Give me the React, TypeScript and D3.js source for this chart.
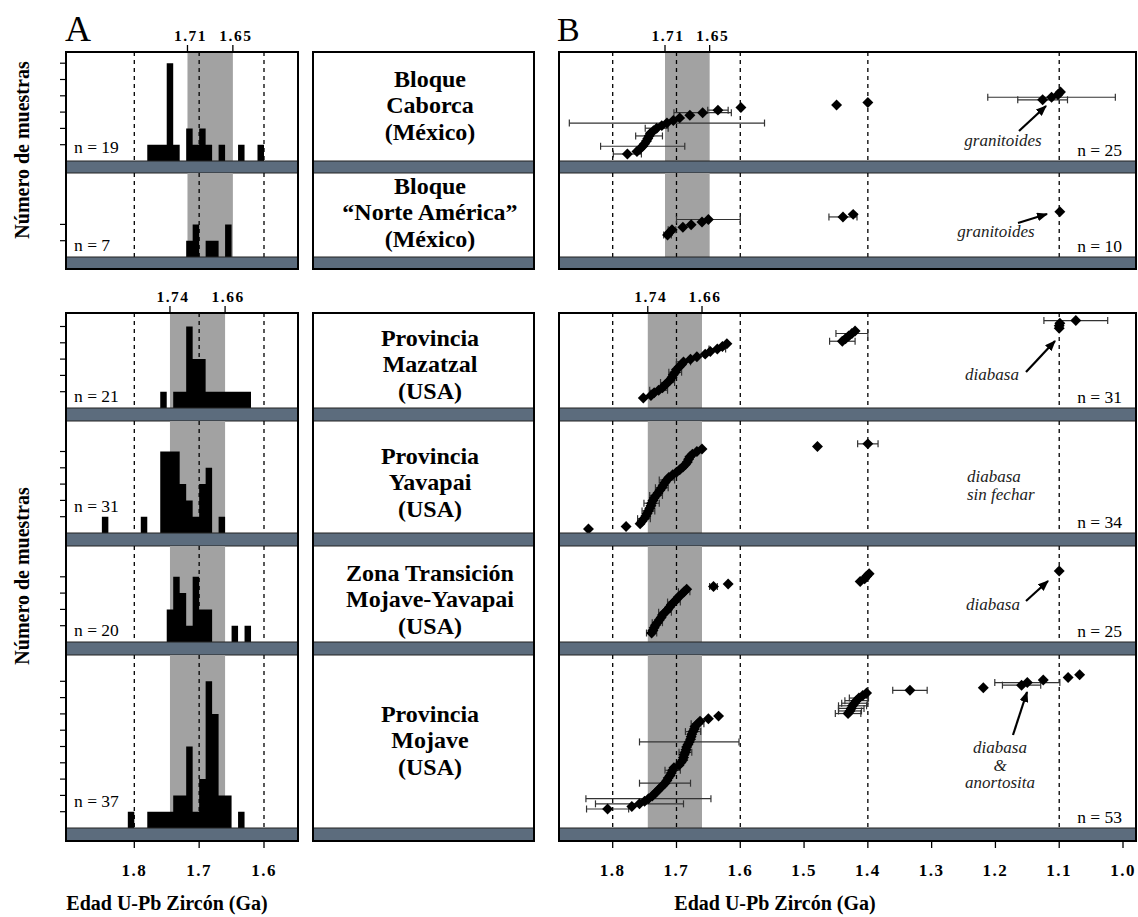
import React, { useRef, useEffect } from 'react';
import * as d3 from 'd3';

// ---------- data ----------
const regionLines = [
  ['Bloque', 'Caborca', '(México)'],
  ['Bloque', '“Norte América”', '(México)'],
  ['Provincia', 'Mazatzal', '(USA)'],
  ['Provincia', 'Yavapai', '(USA)'],
  ['Zona Transición', 'Mojave-Yavapai', '(USA)'],
  ['Provincia', 'Mojave', '(USA)'],
];
const histTotals = [19, 7, 21, 31, 20, 37];
const zirconTotals = [25, 10, 31, 34, 25, 53];

// histograms: older edge of each 10 Ma bin (Ga) + number of samples
const caborcaBins = [1.78, 1.77, 1.76, 1.75, 1.74, 1.72, 1.71, 1.70, 1.69, 1.67, 1.64, 1.61];
const caborcaCounts = [1, 1, 1, 6, 1, 2, 1, 2, 1, 1, 1, 1];
const norteBins = [1.72, 1.71, 1.69, 1.68, 1.66];
const norteCounts = [1, 2, 1, 1, 2];
const mazatzalBins = [1.76, 1.74, 1.73, 1.72, 1.71, 1.70, 1.69, 1.68, 1.67, 1.66, 1.65, 1.64, 1.63];
const mazatzalCounts = [1, 1, 1, 5, 3, 3, 1, 1, 1, 1, 1, 1, 1];
const yavapaiBins = [1.85, 1.79, 1.76, 1.75, 1.74, 1.73, 1.72, 1.71, 1.70, 1.69, 1.67];
const yavapaiCounts = [1, 1, 5, 5, 5, 3, 2, 1, 3, 4, 1];
const transBins = [1.75, 1.74, 1.73, 1.72, 1.71, 1.70, 1.69, 1.65, 1.63];
const transCounts = [2, 4, 3, 1, 4, 2, 2, 1, 1];
const mojaveBins = [1.81, 1.78, 1.77, 1.76, 1.75, 1.74, 1.73, 1.72, 1.71, 1.70, 1.69, 1.68, 1.67, 1.66, 1.64];
const mojaveCounts = [1, 1, 1, 1, 1, 2, 2, 5, 1, 3, 9, 7, 2, 2, 1];

// U-Pb zircon ages (Ga), old -> young, with error (0 = no bar drawn)
const caborcaAges = [1.777, 1.762, 1.757, 1.753, 1.750, 1.747, 1.745, 1.743, 1.741, 1.736, 1.731, 1.723, 1.715,
  1.705, 1.695, 1.679, 1.659, 1.635, 1.599, 1.449, 1.400, 1.126, 1.112, 1.102, 1.098];
const caborcaErr = [0.022, 0, 0, 0.066, 0, 0, 0, 0.021, 0, 0, 0.018, 0, 0.153, 0, 0, 0, 0.045, 0.016, 0, 0, 0,
  0.039, 0.1, 0, 0];
const norteAges = [1.714, 1.711, 1.707, 1.690, 1.677, 1.660, 1.650, 1.439, 1.423, 1.099];
const norteErr = [0.006, 0, 0.006, 0, 0, 0, 0.05, 0.022, 0, 0];
const mazatzalAges = [1.752, 1.740, 1.735, 1.728, 1.722, 1.718, 1.714, 1.710, 1.707, 1.705, 1.702, 1.700, 1.696,
  1.692, 1.689, 1.678, 1.668, 1.655, 1.647, 1.636, 1.628, 1.621, 1.440, 1.435, 1.430, 1.425, 1.420, 1.100, 1.100,
  1.099, 1.074];
const mazatzalErr = [0, 0, 0, 0.014, 0, 0, 0.011, 0, 0, 0, 0.01, 0, 0, 0, 0.011, 0, 0, 0, 0, 0.013, 0, 0, 0.02, 0,
  0, 0.025, 0, 0, 0, 0, 0.05];
const yavapaiAges = [1.838, 1.779, 1.757, 1.754, 1.751, 1.748, 1.746, 1.744, 1.742, 1.740, 1.739, 1.737, 1.735,
  1.732, 1.729, 1.726, 1.723, 1.721, 1.718, 1.715, 1.712, 1.706, 1.700, 1.695, 1.690, 1.686, 1.683, 1.681, 1.679,
  1.675, 1.668, 1.660, 1.479, 1.400];
const yavapaiErr = [0, 0, 0, 0, 0.01, 0, 0, 0.01, 0, 0, 0.012, 0, 0, 0.01, 0, 0, 0.01, 0, 0, 0.012, 0, 0, 0, 0,
  0, 0, 0, 0, 0, 0, 0, 0, 0, 0.016];
const transAges = [1.739, 1.737, 1.735, 1.733, 1.730, 1.727, 1.724, 1.722, 1.718, 1.714, 1.711, 1.708, 1.704,
  1.700, 1.697, 1.692, 1.688, 1.684, 1.642, 1.619, 1.412, 1.405, 1.402, 1.398, 1.100];
const transErr = [0.008, 0, 0, 0, 0.008, 0, 0, 0, 0.01, 0, 0, 0, 0.01, 0, 0, 0, 0.009, 0, 0.006, 0, 0, 0, 0, 0, 0];
const mojaveAges = [1.808, 1.770, 1.758, 1.750, 1.744, 1.738, 1.734, 1.730, 1.726, 1.722, 1.718, 1.715, 1.713,
  1.710, 1.708, 1.706, 1.704, 1.696, 1.693, 1.690, 1.689, 1.688, 1.686, 1.685, 1.684, 1.682, 1.680, 1.678, 1.677,
  1.676, 1.674, 1.672, 1.671, 1.667, 1.663, 1.650, 1.634, 1.431, 1.428, 1.426, 1.424, 1.421, 1.418, 1.414, 1.408,
  1.402, 1.334, 1.219, 1.159, 1.150, 1.125, 1.086, 1.068];
const mojaveErr = [0.033, 0, 0.069, 0, 0.098, 0, 0, 0, 0, 0, 0.04, 0, 0, 0, 0, 0.012, 0, 0, 0, 0, 0, 0, 0.01, 0,
  0, 0, 0.078, 0, 0, 0, 0.012, 0, 0, 0.01, 0, 0, 0, 0.02, 0.018, 0.02, 0.022, 0.02, 0.018, 0.015, 0, 0, 0.027, 0,
  0.03, 0.051, 0, 0, 0];

const histBins = [caborcaBins, norteBins, mazatzalBins, yavapaiBins, transBins, mojaveBins];
const histCounts = [caborcaCounts, norteCounts, mazatzalCounts, yavapaiCounts, transCounts, mojaveCounts];
const rowAges = [caborcaAges, norteAges, mazatzalAges, yavapaiAges, transAges, mojaveAges];
const rowErr = [caborcaErr, norteErr, mazatzalErr, yavapaiErr, transErr, mojaveErr];

// grey band (Ga) and its labels, one per group
const bandEdges = [[1.718, 1.648], [1.745, 1.66]];
const bandLabels = [['1.71', '1.65'], ['1.74', '1.66']];

const histAxisTicks = [1.8, 1.7, 1.6];
const ageAxisTicks = [1.8, 1.7, 1.6, 1.5, 1.4, 1.3, 1.2, 1.1, 1.0];
const guidesA = [1.8, 1.7, 1.6];
const guidesB = [1.8, 1.7, 1.6, 1.4, 1.1];

// ---------- layout ----------
const W = 1138, H = 917;
const rowTop = [52, 173, 313, 421, 546, 655];
const bandTop = [161, 257, 408, 533, 642, 828];
const bandBot = [173, 269, 421, 546, 655, 841];
const groupRows = [[0, 1], [2, 3, 4, 5]];
const labelMid = [113, 220, 372, 490, 607, 748];
const nLabelLift = [8, 6, 6, 21, 6, 21];
const pointLift = [7, 22, 10, 4, 9, 19];
const boxA = [66, 298], boxM = [313, 534], boxB = [559, 1136];
const serif = "'Liberation Serif', 'DejaVu Serif', serif";
const blue = '#5c6c7d';

const App = () => {
  const ref = useRef<SVGSVGElement>(null);

  useEffect(() => {
    const svg = d3.select(ref.current);
    svg.selectAll('*').remove();
    svg.attr('width', W).attr('height', H).style('font-family', serif);

    const xA = d3.scaleLinear().domain([1.8, 1.6]).range([134.3, 264]);
    const xB = d3.scaleLinear().domain([1.8, 1.0]).range([612.7, 1123]);

    const defs = svg.append('defs');
    defs.append('marker').attr('id', 'arr')
      .attr('viewBox', '0 0 10 8').attr('refX', 9).attr('refY', 4)
      .attr('markerWidth', 11).attr('markerHeight', 9)
      .attr('markerUnits', 'userSpaceOnUse').attr('orient', 'auto')
      .append('path').attr('d', 'M0,0 L10,4 L0,8 Z').attr('fill', '#000');

    // panel letters
    svg.append('text').attr('x', 65).attr('y', 41).attr('font-size', 36).text('A');
    svg.append('text').attr('x', 557).attr('y', 41).attr('font-size', 34).text('B');

    // y-axis titles
    [150, 576].forEach((cy) => {
      svg.append('text').attr('transform', `translate(29,${cy}) rotate(-90)`)
        .attr('text-anchor', 'middle').attr('font-weight', 'bold').attr('font-size', 20)
        .text('Número de muestras');
    });

    const rowBands = (g: any, r: number, x0: number, x1: number) => {
      g.append('rect').attr('x', x0).attr('y', bandTop[r]).attr('width', x1 - x0)
        .attr('height', bandBot[r] - bandTop[r]).attr('fill', blue)
        .attr('stroke', '#222').attr('stroke-width', 1);
    };

    groupRows.forEach((rows, gi) => {
      const top = rowTop[rows[0]];
      const bottom = bandBot[rows[rows.length - 1]];
      const [e0, e1] = bandEdges[gi];

      // ----- panel A -----
      const gA = svg.append('g');
      rows.forEach((r) => {
        gA.append('rect').attr('x', xA(e0)).attr('y', rowTop[r]).attr('width', xA(e1) - xA(e0))
          .attr('height', bandTop[r] - rowTop[r]).attr('fill', '#a2a2a2');
        guidesA.forEach((a) => {
          gA.append('line').attr('x1', xA(a)).attr('x2', xA(a)).attr('y1', rowTop[r]).attr('y2', bandTop[r])
            .attr('stroke', '#000').attr('stroke-width', 1.3).attr('stroke-dasharray', '4,4');
        });
        const yH = d3.scaleLinear().domain([0, 1]).range([bandTop[r], bandTop[r] - 16.3]);
        // all bins of a row in one path so neighbouring bars fuse without seams
        const p = d3.path();
        histBins[r].forEach((b, i) => {
          const y = yH(histCounts[r][i]);
          p.rect(xA(b), y, xA(b - 0.01) - xA(b), bandTop[r] - y);
        });
        gA.append('path').attr('d', p.toString()).attr('fill', '#000');
        const maxC = d3.max(histCounts[r]) as number;
        gA.selectAll(null).data(d3.range(1, maxC + 1)).enter().append('line')
          .attr('x1', boxA[0] - 6).attr('x2', boxA[0]).attr('y1', (k: number) => yH(k)).attr('y2', (k: number) => yH(k))
          .attr('stroke', '#000').attr('stroke-width', 1.2);
        gA.append('text').attr('x', 74).attr('y', bandTop[r] - nLabelLift[r])
          .attr('font-size', 17.5).text(`n = ${histTotals[r]}`);
        rowBands(gA, r, boxA[0], boxA[1]);
      });
      gA.append('rect').attr('x', boxA[0]).attr('y', top).attr('width', boxA[1] - boxA[0])
        .attr('height', bottom - top).attr('fill', 'none').attr('stroke', '#000').attr('stroke-width', 2);

      // ----- middle labels -----
      const gM = svg.append('g');
      rows.forEach((r) => {
        regionLines[r].forEach((line, li) => {
          gM.append('text').attr('x', 430).attr('y', labelMid[r] + (li - 1) * 26.5)
            .attr('text-anchor', 'middle').attr('font-weight', 'bold').attr('font-size', 24).text(line);
        });
        rowBands(gM, r, boxM[0], boxM[1]);
      });
      gM.append('rect').attr('x', boxM[0]).attr('y', top).attr('width', boxM[1] - boxM[0])
        .attr('height', bottom - top).attr('fill', 'none').attr('stroke', '#000').attr('stroke-width', 2);

      // ----- panel B -----
      const gB = svg.append('g');
      rows.forEach((r) => {
        gB.append('rect').attr('x', xB(e0)).attr('y', rowTop[r]).attr('width', xB(e1) - xB(e0))
          .attr('height', bandTop[r] - rowTop[r]).attr('fill', '#a2a2a2');
        guidesB.forEach((a) => {
          gB.append('line').attr('x1', xB(a)).attr('x2', xB(a)).attr('y1', rowTop[r]).attr('y2', bandTop[r])
            .attr('stroke', '#000').attr('stroke-width', 1.3).attr('stroke-dasharray', '4,4');
        });
        const ages = rowAges[r];
        const y0 = bandTop[r] - pointLift[r];
        const yR = d3.scaleLinear().domain([0, ages.length - 1]).range([y0, y0 - 2.58 * (ages.length - 1)]);
        const errs = ages.map((a, i) => ({ a, e: rowErr[r][i], i })).filter((d) => d.e > 0);
        const eg = gB.append('g').attr('stroke', '#333').attr('stroke-width', 1.2);
        errs.forEach((d) => {
          const y = yR(d.i);
          eg.append('line').attr('x1', xB(d.a + d.e)).attr('x2', xB(d.a - d.e)).attr('y1', y).attr('y2', y);
          [d.a + d.e, d.a - d.e].forEach((v) => {
            eg.append('line').attr('x1', xB(v)).attr('x2', xB(v)).attr('y1', y - 3.5).attr('y2', y + 3.5);
          });
        });
        const sym = d3.symbol().type(d3.symbolSquare).size(60);
        gB.selectAll(null).data(ages).enter().append('path')
          .attr('d', sym as any)
          .attr('transform', (d: number, i: number) => `translate(${xB(d)},${yR(i)}) rotate(45)`)
          .attr('fill', '#000');
        gB.append('text').attr('x', 1122).attr('y', bandTop[r] - 5).attr('text-anchor', 'end')
          .attr('font-size', 17.5).text(`n = ${zirconTotals[r]}`);
        rowBands(gB, r, boxB[0], boxB[1]);
      });
      gB.append('rect').attr('x', boxB[0]).attr('y', top).attr('width', boxB[1] - boxB[0])
        .attr('height', bottom - top).attr('fill', 'none').attr('stroke', '#000').attr('stroke-width', 2);

      // band edge labels on top of A and B
      [xA, xB].forEach((sc: any) => {
        [e0, e1].forEach((e, k) => {
          svg.append('line').attr('x1', sc(e)).attr('x2', sc(e)).attr('y1', top - 7).attr('y2', top)
            .attr('stroke', '#000').attr('stroke-width', 1.3);
          svg.append('text').attr('x', sc(e) + 3).attr('y', top - 11).attr('text-anchor', 'middle')
            .attr('font-weight', 'bold').attr('font-size', 15.5).attr('letter-spacing', 1.5)
            .text(bandLabels[gi][k]);
        });
      });
    });

    // bottom axes
    const axisY = bandBot[5];
    histAxisTicks.forEach((t) => {
      svg.append('line').attr('x1', xA(t)).attr('x2', xA(t)).attr('y1', axisY).attr('y2', axisY + 7)
        .attr('stroke', '#000').attr('stroke-width', 1.3);
      svg.append('text').attr('x', xA(t)).attr('y', 876).attr('text-anchor', 'middle')
        .attr('font-weight', 'bold').attr('font-size', 17).attr('letter-spacing', 1.5).text(t.toFixed(1));
    });
    ageAxisTicks.forEach((t) => {
      svg.append('line').attr('x1', xB(t)).attr('x2', xB(t)).attr('y1', axisY).attr('y2', axisY + 7)
        .attr('stroke', '#000').attr('stroke-width', 1.3);
      svg.append('text').attr('x', xB(t)).attr('y', 876).attr('text-anchor', 'middle')
        .attr('font-weight', 'bold').attr('font-size', 17).attr('letter-spacing', 1.5).text(t.toFixed(1));
    });
    [[167, 910], [775, 910]].forEach(([x, y]) => {
      svg.append('text').attr('x', x).attr('y', y).attr('text-anchor', 'middle')
        .attr('font-weight', 'bold').attr('font-size', 20).text('Edad U-Pb Zircón (Ga)');
    });

    // annotations in panel B
    const notes = [
      { lines: ['granitoides'], x: 1003, y: 146, anchor: 'middle', from: [1019, 131], to: [1046, 106] },
      { lines: ['granitoides'], x: 996, y: 237, anchor: 'middle', from: [1018, 223], to: [1047, 214] },
      { lines: ['diabasa'], x: 992, y: 380, anchor: 'middle', from: [1026, 372], to: [1055, 341] },
      { lines: ['diabasa', 'sin fechar'], x: 967, y: 482, anchor: 'start', from: null, to: null },
      { lines: ['diabasa'], x: 993, y: 610, anchor: 'middle', from: [1026, 601], to: [1048, 581] },
      { lines: ['diabasa', '&', 'anortosita'], x: 1000, y: 753, anchor: 'middle', from: [1013, 735], to: [1027, 692] },
    ];
    notes.forEach((n) => {
      n.lines.forEach((l, i) => {
        svg.append('text').attr('x', n.x).attr('y', n.y + i * 17.5).attr('text-anchor', n.anchor)
          .attr('font-style', 'italic').attr('font-size', 17).attr('fill', '#222').text(l);
      });
      if (n.from && n.to) {
        svg.append('line').attr('x1', n.from[0]).attr('y1', n.from[1]).attr('x2', n.to[0]).attr('y2', n.to[1])
          .attr('stroke', '#000').attr('stroke-width', 2.2).attr('marker-end', 'url(#arr)');
      }
    });
  }, []);

  return (
    <div style={{ position: 'absolute', left: 0, top: 0 }}>
      <svg ref={ref} />
    </div>
  );
};

export default App;
